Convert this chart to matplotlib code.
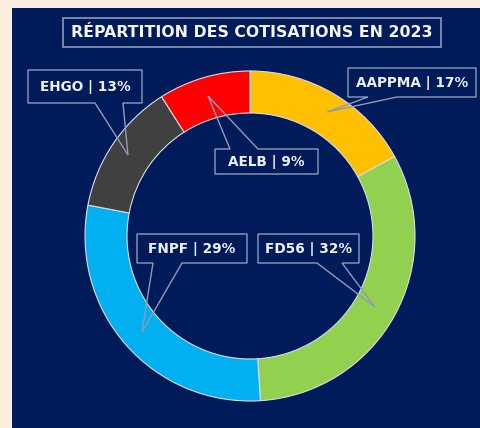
import matplotlib.pyplot as plt
from matplotlib.patches import Rectangle, Polygon

# data
labels = ['AAPPMA', 'FD56', 'FNPF', 'EHGO', 'AELB']
shares = [17, 32, 29, 13, 9]
colors = ['#FFC000', '#92D050', '#00B0F0', '#404040', '#FF0000']
title = 'RÉPARTITION DES COTISATIONS EN 2023'

W, H = 481, 428
NAVY = '#001B5A'
EDGE = '#8F9AB8'

fig = plt.figure(figsize=(W / 100, H / 100), dpi=100, facecolor='#FCEEDD')
ax = fig.add_axes([0, 0, 1, 1])

def py(y):
  # pixel row (top-down) -> data y (bottom-up)
  return H - y

ax.add_patch(Rectangle((12, 0), W - 12, H - 8, facecolor=NAVY, edgecolor='none', zorder=0))

# donut, clockwise from the top
ax.pie(shares, colors=colors, startangle=90, counterclock=False,
       center=(250, py(236)), radius=165,
       wedgeprops=dict(width=42, edgecolor='#D8DCE8', linewidth=0.8))

ax.set_xlim(0, W)
ax.set_ylim(0, H)
ax.set_aspect('equal')
ax.axis('off')

# title box
ax.add_patch(Rectangle((63, py(47)), 378, 29, facecolor='none', edgecolor=EDGE, linewidth=1.2, zorder=3))
ax.text(252, py(32.5), title, color='#F4F4F8', fontsize=11.3, fontweight='bold',
        family='DejaVu Sans', ha='center', va='center', zorder=4)

# callouts: box (x0, y0, x1, y1), side of pointer, pointer base x, tip
callouts = {
  'AAPPMA': ((348, 68, 476, 97), 'bottom', (368, 397), (327, 112)),
  'FD56':   ((258, 234, 359, 263), 'bottom', (317, 342), (375, 307)),
  'FNPF':   ((137, 234, 247, 263), 'bottom', (153, 182), (142, 332)),
  'EHGO':   ((28, 70, 142, 103), 'bottom', (95, 123), (128, 155)),
  'AELB':   ((215, 149, 318, 174), 'top', (230, 258), (208, 96)),
}

for name, pct in zip(labels, shares):
  (x0, y0, x1, y1), side, (b1, b2), (tx, ty) = callouts[name]
  if side == 'bottom':
    pts = [(x0, y0), (x1, y0), (x1, y1), (b2, y1), (tx, ty), (b1, y1), (x0, y1)]
  else:
    pts = [(x0, y0), (b1, y0), (tx, ty), (b2, y0), (x1, y0), (x1, y1), (x0, y1)]
  pts = [(x, py(y)) for x, y in pts]
  ax.add_patch(Polygon(pts, closed=True, facecolor='none', edgecolor=EDGE, linewidth=1.0, zorder=5))
  ax.text((x0 + x1) / 2, py((y0 + y1) / 2), f'{name} | {pct}%', color='#F0F0F4',
          fontsize=9.8, fontweight='bold', ha='center', va='center', zorder=6)

fig.savefig('out.png', dpi=100, facecolor=fig.get_facecolor())
